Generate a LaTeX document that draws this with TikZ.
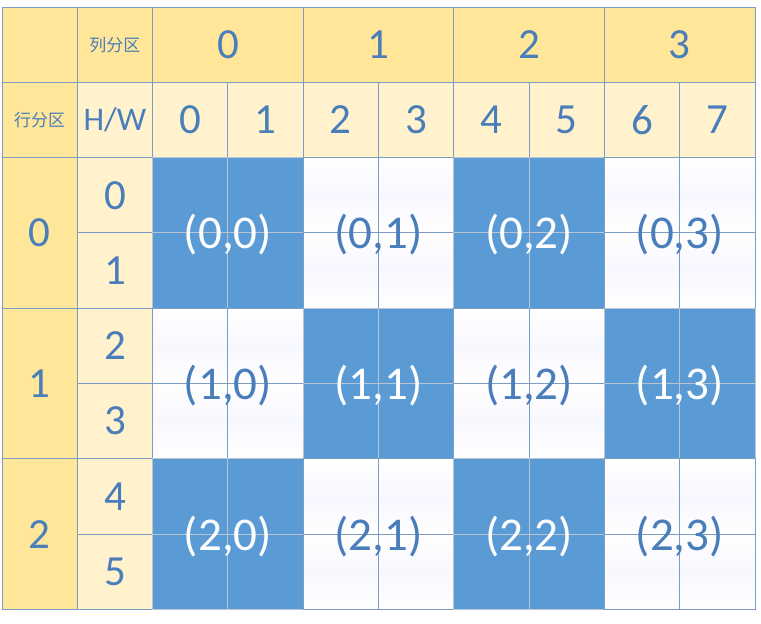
\documentclass[tikz,border=0pt]{standalone}
\usepackage{fontspec}
\setmainfont{Carlito}
\newfontfamily\cjk{Noto Sans CJK SC}
\usetikzlibrary{positioning}
\definecolor{hdrdark}{HTML}{FFE699}
\definecolor{hdrlight}{HTML}{FFF2CC}
\definecolor{tileblue}{HTML}{5B9BD5}
\definecolor{txtblue}{HTML}{4A7EBB}
\definecolor{gridline}{HTML}{7B9CC4}
\definecolor{tileline}{HTML}{B8C4D0}

\begin{document}
\begin{tikzpicture}[
    x=1pt, y=-1pt,
    cell/.style={rectangle, draw=gridline, line width=0.9pt, minimum width=75.3pt, minimum height=75.3pt, inner sep=0pt, outer sep=0pt, anchor=north west, text=txtblue, font=\fontsize{43}{43}\selectfont},
    dark/.style={cell, fill=hdrdark},
    light/.style={cell, fill=hdrlight},
    wide/.style={minimum width=150.6pt},
    tall/.style={minimum height=150.6pt},
    small/.style={font=\cjk\fontsize{17}{17}\selectfont},
    tile0/.style={cell, fill=tileblue, draw=tileline},
    tile1/.style={cell, top color=white, bottom color=white, middle color=blue!3!white},
    tag/.style={inner sep=0pt, font=\fontsize{47}{47}\selectfont},
    tag0/.style={tag, text=white},
    tag1/.style={tag, text=txtblue}
]
    \useasboundingbox (0,0) rectangle (761,624);

    % corner headers
    \node[dark] (corner) at (2,7) {};
    \node[dark, small, right=0pt of corner] (colpart) {列分区};
    \node[dark, small, below=0pt of corner] (rowpart) {行分区};
    \node[light, right=0pt of rowpart, font=\fontsize{33}{33}\selectfont] (hw) {H/W};

    % column partitions and W indices
    \foreach \g in {0,...,3}
        \node[dark, wide] (cp\g) at ({2+75.3*(2*\g+2)}, 7) {\g};
    \foreach \c in {0,...,7}
        \node[light] (w\c) at ({2+75.3*(\c+2)}, 82.3) {\c};

    % row partitions and H indices
    \foreach \g in {0,1,2}
        \node[dark, tall] (rp\g) at (2, {7+75.3*(2*\g+2)}) {\g};
    \foreach \r in {0,...,5}
        \node[light] (h\r) at (77.3, {7+75.3*(\r+2)}) {\r};

    % blocks
    \foreach \i in {0,1,2} {
        \foreach \j in {0,...,3} {
            \pgfmathtruncatemacro\parity{mod(\i+\j,2)}
            \foreach \dr in {0,1}
                \foreach \dc in {0,1}
                    \node[tile\parity] (d\i\j\dr\dc) at ({2+75.3*(2*\j+2+\dc)}, {7+75.3*(2*\i+2+\dr)}) {};
            \node[tag\parity] (b\i\j) at ({2+75.3*(2*\j+3)}, {9+75.3*(2*\i+3)}) {(\i,\j)};
        }
    }
\end{tikzpicture}
\end{document}
